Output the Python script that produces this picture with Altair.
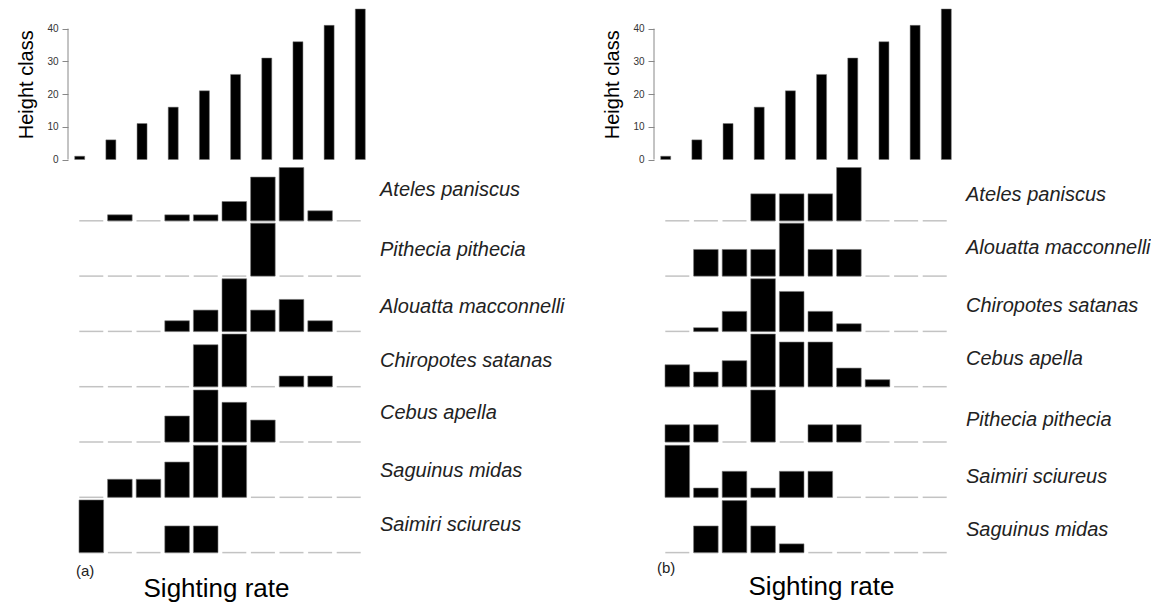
import altair as alt
import pandas as pd

# ---------------- data ----------------
CLASSES = list(range(1, 11))
HEIGHT_CLASS = [1, 6, 11, 16, 21, 26, 31, 36, 41, 46]

SPECIES_A = ["Ateles paniscus", "Pithecia pithecia", "Alouatta macconnelli",
             "Chiropotes satanas", "Cebus apella", "Saguinus midas", "Saimiri sciureus"]
RATES_A = [
    [0, 0.56, 0, 0.56, 0.56, 1.81, 4.10, 5.00, 0.94, 0],
    [0, 0, 0, 0, 0, 0, 4.97, 0, 0, 0],
    [0, 0, 0, 1.00, 2.00, 4.94, 2.00, 3.00, 1.00, 0],
    [0, 0, 0, 0, 3.94, 4.94, 0, 1.00, 1.00, 0],
    [0, 0, 0, 2.44, 4.88, 3.72, 2.06, 0, 0, 0],
    [0, 1.69, 1.69, 3.31, 4.88, 4.88, 0, 0, 0, 0],
    [4.94, 0, 0, 2.50, 2.50, 0, 0, 0, 0, 0],
]

SPECIES_B = ["Ateles paniscus", "Alouatta macconnelli", "Chiropotes satanas",
             "Cebus apella", "Pithecia pithecia", "Saimiri sciureus", "Saguinus midas"]
RATES_B = [
    [0, 0, 0, 2.53, 2.53, 2.53, 5.00, 0, 0, 0],
    [0, 2.50, 2.50, 2.50, 4.97, 2.50, 2.50, 0, 0, 0],
    [0, 0.35, 1.88, 4.94, 3.75, 1.88, 0.72, 0, 0, 0],
    [2.06, 1.38, 2.44, 4.94, 4.19, 4.19, 1.75, 0.66, 0, 0],
    [1.62, 1.62, 0, 4.88, 0, 1.62, 1.62, 0, 0, 0],
    [4.88, 0.87, 2.44, 0.87, 2.44, 2.44, 0, 0, 0, 0],
    [0, 2.50, 4.88, 2.50, 0.82, 0, 0, 0, 0, 0],
]

# ---------------- layout / style ----------------
FONT = "Liberation Sans"
W = 304
TOP_H = 150.5
N_ROWS = 7
ROW_PX = 55.3
ROWS_H = N_ROWS * ROW_PX
ROW_STEP = 5.19                      # data units per row
PXU = ROWS_H / (N_ROWS * ROW_STEP)  # pixels per data unit
LABEL_RISE_A = [31, 26, 24, 26, 29, 26, 28]   # px above row baseline
LABEL_RISE_B = [26, 28, 25, 28, 22, 20, 23]


def top_chart():
    df = pd.DataFrame({"cls": CLASSES, "h": HEIGHT_CLASS})
    yscale = alt.Scale(domain=[0, 46], nice=False, zero=False, padding=0)
    yaxis = alt.Axis(values=[0, 10, 20, 30, 40], domain=False, grid=False,
                     tickSize=6, tickColor="#888", tickWidth=1,
                     labelColor="#333", labelFontSize=10, labelPadding=4, labelFont=FONT,
                     labelOverlap=False,
                     title="Height class", titleFontSize=20, titleFontWeight="normal",
                     titleColor="black", titleFont=FONT, titlePadding=10)
    bars = alt.Chart(df).mark_bar(size=10, color="black", stroke="#777", strokeWidth=0.5).encode(
        x=alt.X("cls:Q", scale=alt.Scale(domain=[0.625, 10.375], nice=False, zero=False, padding=0),
                axis=None),
        y=alt.Y("h:Q", scale=yscale, axis=yaxis),
    )
    axis_line = alt.Chart(pd.DataFrame({"a": [0], "b": [40]})).mark_rule(color="#888", strokeWidth=1).encode(
        x=alt.value(0), y=alt.Y("a:Q", scale=yscale, axis=yaxis), y2="b:Q")
    return alt.layer(bars, axis_line).properties(width=W, height=TOP_H)


def rows_chart(species, rates, rises, tag, tag_x, tag_y, title_x, title_y):
    recs = []
    for r, (sp, vals) in enumerate(zip(species, rates)):
        for c, v in zip(CLASSES, vals):
            recs.append({"species": sp, "row": r, "cell": c, "rate": v})
    df = pd.DataFrame(recs)
    labs = pd.DataFrame({"species": species, "row": list(range(len(species))),
                         "rise": [p / PXU for p in rises]})

    xenc = alt.X("cell:O", scale=alt.Scale(paddingInner=0.14, paddingOuter=0.384),
                 axis=alt.Axis(title="Sighting rate", labels=False, ticks=False, domain=False, grid=False,
                               titleFontSize=26, titleFontWeight="normal", titleColor="black",
                               titleFont=FONT, titleX=title_x, titleY=title_y,
                               titleAlign="center", titleBaseline="alphabetic"))
    yscale = alt.Scale(domain=[0, N_ROWS * ROW_STEP], nice=False, zero=False, padding=0)

    base = alt.Chart(df).transform_calculate(
        base=f"({N_ROWS - 1} - datum.row) * {ROW_STEP}"
    ).transform_calculate(
        top="datum.base + datum.rate"
    )
    zero_lines = base.mark_tick(orient="horizontal", color="#aaa", thickness=1.5, size=24).encode(
        x=xenc, y=alt.Y("base:Q", scale=yscale, axis=None))
    bars = base.transform_filter("datum.rate > 0").mark_bar(
        color="black", stroke="#777", strokeWidth=0.6).encode(
        x=xenc, y=alt.Y("base:Q", scale=yscale, axis=None), y2="top:Q")
    names = alt.Chart(labs).transform_calculate(
        ly=f"({N_ROWS - 1} - datum.row) * {ROW_STEP} + datum.rise"
    ).mark_text(align="left", baseline="middle", fontSize=20, fontStyle="italic",
                font=FONT, color="#222").encode(
        x=alt.value(312), y=alt.Y("ly:Q", scale=yscale, axis=None), text="species:N")
    tagc = alt.Chart(pd.DataFrame({"t": [tag]})).mark_text(
        align="left", baseline="middle", fontSize=15, font=FONT, color="#222").encode(
        x=alt.value(tag_x), y=alt.value(tag_y), text="t:N")
    return alt.layer(zero_lines, bars, names, tagc).properties(width=W, height=ROWS_H)


top_a = top_chart()
top_b = top_chart()
rows_a = rows_chart(SPECIES_A, RATES_A, LABEL_RISE_A, "(a)", 8, 405, 148, 44)
rows_b = rows_chart(SPECIES_B, RATES_B, LABEL_RISE_B, "(b)", 3, 402, 167, 42)

chart = alt.concat(
    top_a, top_b, rows_a, rows_b, columns=2,
    spacing={"row": 5.5, "column": 282}, bounds="flush"
).properties(
    padding={"left": 8, "top": 0, "right": 0, "bottom": 0}
).configure(
    font=FONT, background="white"
).configure_view(stroke=None)

chart.save("out.html", embed_options={"renderer": "svg", "actions": False})
